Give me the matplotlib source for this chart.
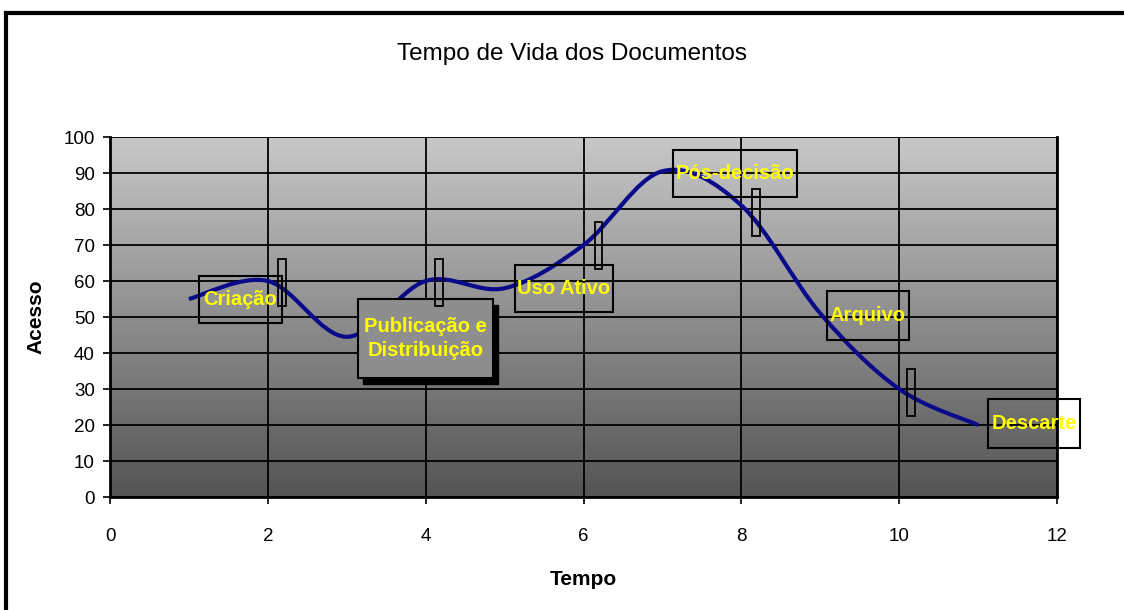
import matplotlib
matplotlib.use('Agg')
import matplotlib.pyplot as plt
import numpy as np
from matplotlib.path import Path
from matplotlib.patches import PathPatch, Rectangle
from matplotlib.colors import LinearSegmentedColormap
from matplotlib.lines import Line2D

# data
tempo = [1, 2, 3, 4, 5, 6, 7, 8, 9, 10, 11]
acesso = [55, 60, 44.5, 60, 58, 70, 90.5, 81, 51, 30, 20]

# fases: texto, centro (x, y), largura, altura (dados)
fases = ['Criação', 'Publicação e\nDistribuição', 'Uso Ativo', 'Pós-decisão', 'Arquivo', 'Descarte']
fase_x = [1.65, 4.0, 5.75, 7.92, 9.6, 11.71]
fase_y = [54.8, 44.0, 58.0, 89.9, 50.5, 20.5]
fase_w = [1.05, 1.71, 1.24, 1.57, 1.04, 1.17]
fase_h = [13.0, 22.0, 13.0, 13.0, 13.5, 13.5]

# retangulos finos (perto dos marcos)
marco_x = [2.18, 4.17, 6.19, 8.19, 10.15]
marco_y = [59.5, 59.5, 69.8, 79.0, 29.0]

fnt = ['Liberation Sans', 'DejaVu Sans']
plt.rcParams['font.family'] = fnt

fig = plt.figure(figsize=(11.24, 6.10), dpi=100)
ax = fig.add_axes([110 / 1124, 1 - 497 / 610, (1057 - 110) / 1124, (497 - 137) / 610])

# fundo em gradiente
cmap = LinearSegmentedColormap.from_list('g', ['#545454', '#c8c8c8'])
grad = np.linspace(0, 1, 256).reshape(-1, 1)
ax.imshow(grad, extent=[0, 12, 0, 100], origin='lower', aspect='auto', cmap=cmap, zorder=0)

ax.set_xlim(0, 12)
ax.set_ylim(0, 100)
ax.set_xticks(range(0, 13, 2))
ax.set_yticks(range(0, 101, 10))
ax.grid(True, color='black', linewidth=1.3)
ax.set_axisbelow(False)
for s in ['left', 'bottom', 'right']:
    ax.spines[s].set_linewidth(2)
ax.spines['top'].set_visible(False)
ax.tick_params(direction='out', length=5, width=1.2, labelsize=13.5, pad=17)
ax.tick_params(axis='y', pad=6)

# curva suave (bezier estilo excel)
x = np.array(tempo, float)
y = np.array(acesso, float)
n = len(x)
verts = [(x[0], y[0])]
codes = [Path.MOVETO]
for i in range(n - 1):
    x0, y0 = (x[i - 1], y[i - 1]) if i > 0 else (x[i], y[i])
    x3, y3 = (x[i + 2], y[i + 2]) if i + 2 < n else (x[i + 1], y[i + 1])
    c1 = (x[i] + (x[i + 1] - x0) / 6, y[i] + (y[i + 1] - y0) / 6)
    c2 = (x[i + 1] - (x3 - x[i]) / 6, y[i + 1] - (y3 - y[i]) / 6)
    verts += [c1, c2, (x[i + 1], y[i + 1])]
    codes += [Path.CURVE4] * 3
ax.add_patch(PathPatch(Path(verts, codes), facecolor='none', edgecolor='#0a0a8a', linewidth=3, zorder=3))

# caixas
for i in range(len(fases)):
    x0 = fase_x[i] - fase_w[i] / 2
    y0 = fase_y[i] - fase_h[i] / 2
    if i == 1:
        ax.add_patch(Rectangle((x0 + 0.06, y0 - 1.6), fase_w[i], fase_h[i], facecolor='black',
                               edgecolor='black', zorder=3.5))
        ax.add_patch(Rectangle((x0, y0), fase_w[i], fase_h[i], facecolor='#8e8e8e',
                               edgecolor='black', linewidth=1.5, zorder=3.6))
    else:
        ax.add_patch(Rectangle((x0, y0), fase_w[i], fase_h[i], facecolor='none',
                               edgecolor='black', linewidth=1.5, zorder=4, clip_on=False))
    ax.text(fase_x[i], fase_y[i], fases[i], ha='center', va='center', color='#ffff00',
            fontsize=14.5, fontweight='bold', linespacing=1.35, zorder=5, clip_on=False)

for i in range(len(marco_x)):
    ax.add_patch(Rectangle((marco_x[i] - 0.05, marco_y[i] - 6.5), 0.1, 13, facecolor='none',
                           edgecolor='black', linewidth=1.3, zorder=4))

ax.set_xlabel('Tempo', fontsize=15, fontweight='bold', labelpad=18)
ax.set_ylabel('Acesso', fontsize=15, fontweight='bold', labelpad=13)
fig.text(0.509, 0.912, 'Tempo de Vida dos Documentos', ha='center', va='center', fontsize=17.5)

# moldura
fig.add_artist(Line2D([6 / 1124, 6 / 1124], [0, 1 - 13 / 610], color='black', linewidth=3))
fig.add_artist(Line2D([6 / 1124, 1], [1 - 13 / 610, 1 - 13 / 610], color='black', linewidth=3))

fig.savefig('out.png', dpi=100)
